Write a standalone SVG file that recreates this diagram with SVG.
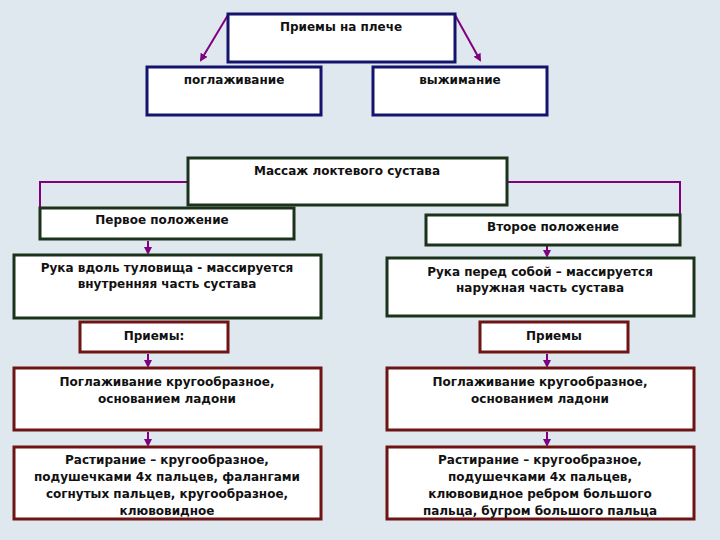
<svg xmlns="http://www.w3.org/2000/svg" width="720" height="540" viewBox="0 0 720 540">
<defs>
<marker id="ah" markerWidth="8" markerHeight="8" refX="6" refY="4" orient="auto" markerUnits="userSpaceOnUse"><path d="M0,0 L8,4 L0,8 z" fill="#800080"/></marker>
<style>
.b{fill:#fff;stroke-width:3}
.n{stroke:#14146e}.g{stroke:#1a331a}.m{stroke:#6e1414}
text{font-family:"DejaVu Sans",sans-serif;font-size:12px;font-weight:bold;fill:#111;text-anchor:middle}
.c{stroke:#800080;stroke-width:2;fill:none}
</style>
</defs>
<rect width="720" height="540" fill="#dfe7ef"/>
<g id="connectors">
<line class="c" x1="228" y1="15" x2="201" y2="60" marker-end="url(#ah)"/>
<line class="c" x1="455" y1="15" x2="480" y2="60" marker-end="url(#ah)"/>
<polyline class="c" points="188,182 40,182 40,208"/>
<polyline class="c" points="507,182 680,182 680,215"/>
<line class="c" x1="148" y1="241" x2="148" y2="253" marker-end="url(#ah)"/>
<line class="c" x1="547" y1="246" x2="547" y2="256" marker-end="url(#ah)"/>
<line class="c" x1="148" y1="354" x2="148" y2="366" marker-end="url(#ah)"/>
<line class="c" x1="547" y1="354" x2="547" y2="366" marker-end="url(#ah)"/>
<line class="c" x1="148" y1="432" x2="148" y2="445" marker-end="url(#ah)"/>
<line class="c" x1="547" y1="432" x2="547" y2="445" marker-end="url(#ah)"/>
</g>
<g id="n1"><rect class="b n" x="228" y="14" width="227" height="48"/><text x="341" y="31">Приемы на плече</text></g>
<g id="n2"><rect class="b n" x="147" y="67" width="174" height="48"/><text x="234" y="84">поглаживание</text></g>
<g id="n3"><rect class="b n" x="373" y="67" width="174" height="48"/><text x="460" y="84">выжимание</text></g>
<g id="n4"><rect class="b g" x="188" y="158" width="319" height="47"/><text x="347" y="175">Массаж локтевого сустава</text></g>
<g id="n5"><rect class="b g" x="40" y="208" width="254" height="31"/><text x="162" y="224">Первое положение</text></g>
<g id="n6"><rect class="b g" x="426" y="215" width="254" height="30"/><text x="553" y="231">Второе положение</text></g>
<g id="n7"><rect class="b g" x="14" y="255" width="307" height="63"/><text x="167" y="272">Рука вдоль туловища - массируется</text><text x="167" y="288">внутренняя часть сустава</text></g>
<g id="n8"><rect class="b g" x="387" y="258" width="307" height="58"/><text x="540" y="276">Рука перед собой – массируется</text><text x="540" y="292">наружная часть сустава</text></g>
<g id="n9"><rect class="b m" x="80" y="322" width="148" height="30"/><text x="154" y="340">Приемы:</text></g>
<g id="n10"><rect class="b m" x="480" y="322" width="148" height="30"/><text x="554" y="340">Приемы</text></g>
<g id="n11"><rect class="b m" x="14" y="368" width="307" height="62"/><text x="167" y="386">Поглаживание кругообразное,</text><text x="167" y="403">основанием ладони</text></g>
<g id="n12"><rect class="b m" x="387" y="368" width="307" height="62"/><text x="540" y="386">Поглаживание кругообразное,</text><text x="540" y="403">основанием ладони</text></g>
<g id="n13"><rect class="b m" x="14" y="447" width="307" height="72"/><text x="167" y="464">Растирание – кругообразное,</text><text x="167" y="481">подушечками 4х пальцев, фалангами</text><text x="167" y="498">согнутых пальцев, кругообразное,</text><text x="167" y="515">клювовидное</text></g>
<g id="n14"><rect class="b m" x="387" y="447" width="307" height="72"/><text x="540" y="464">Растирание – кругообразное,</text><text x="540" y="481">подушечками 4х пальцев,</text><text x="540" y="498">клювовидное ребром большого</text><text x="540" y="515">пальца, бугром большого пальца</text></g>
</svg>
